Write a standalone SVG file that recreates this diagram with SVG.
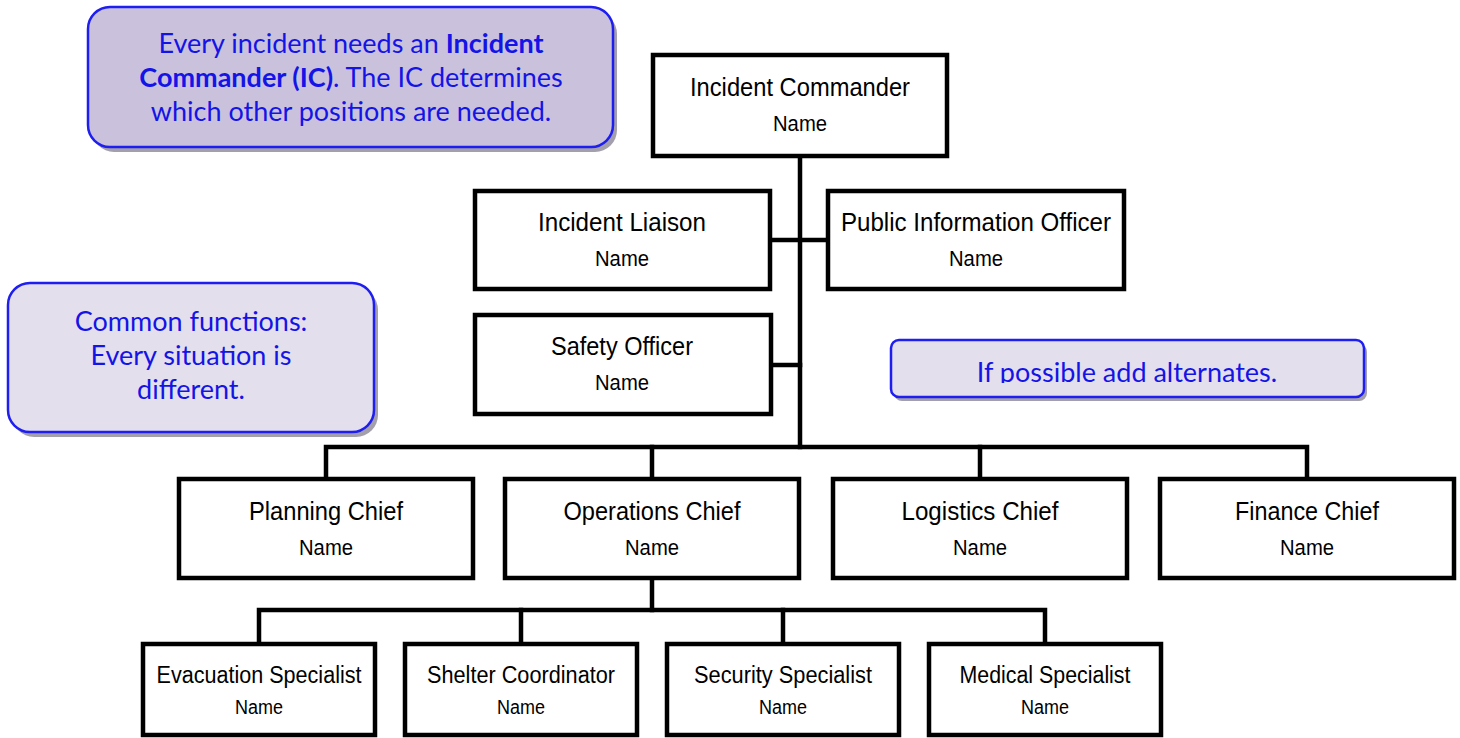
<svg xmlns="http://www.w3.org/2000/svg" width="1460" height="738" viewBox="0 0 1460 738">
<style>
.box{fill:#ffffff;stroke:#000000;stroke-width:4.5}
.t{font-family:"Liberation Sans Narrow","Liberation Sans",Arial,sans-serif;font-size:25px;fill:#000;text-anchor:middle}
.n{font-family:"Liberation Sans Narrow","Liberation Sans",Arial,sans-serif;font-size:22px;fill:#000;text-anchor:middle}
.t3{font-family:"Liberation Sans Narrow","Liberation Sans",Arial,sans-serif;font-size:23px;fill:#000;text-anchor:middle}
.n3{font-family:"Liberation Sans Narrow","Liberation Sans",Arial,sans-serif;font-size:20px;fill:#000;text-anchor:middle}
.conn{fill:none;stroke:#000;stroke-width:4.5;stroke-linecap:square}
.co{stroke:#1e1ef0;stroke-width:2.5}
.shadow{fill:#a39fab}
.ct{font-family:Lato,"Open Sans",sans-serif;font-size:27px;fill:#1414e6;text-anchor:middle}
</style>
<defs>
<clipPath id="clip3"><rect x="880" y="330" width="500" height="53"/></clipPath>
</defs>

<g id="callout-ic">
<rect class="shadow" x="92" y="12" width="525" height="140" rx="22"/>
<rect class="co" x="88" y="7" width="525" height="140" rx="22" fill="#cac2dd"/>
<text class="ct" x="351" y="53">Every incident needs an <tspan font-weight="bold">Incident</tspan></text>
<text class="ct" x="351" y="87"><tspan font-weight="bold">Commander (IC)</tspan>. The IC determines</text>
<text class="ct" x="351" y="121">which other positions are needed.</text>
</g>

<g id="callout-common">
<rect class="shadow" x="12" y="288" width="366" height="149" rx="22"/>
<rect class="co" x="8" y="283" width="366" height="149" rx="22" fill="#e4dfed"/>
<text class="ct" x="191" y="331">Common functions:</text>
<text class="ct" x="191" y="365">Every situation is</text>
<text class="ct" x="191" y="399">different.</text>
</g>

<g id="callout-alternates">
<rect class="shadow" x="894" y="344" width="473" height="57" rx="8"/>
<rect class="co" x="891" y="340" width="473" height="57" rx="8" fill="#e4dfed"/>
<text class="ct" x="1127" y="382" clip-path="url(#clip3)">If possible add alternates.</text>
</g>

<g id="connectors">
<path class="conn" d="M800 157 V447"/>
<path class="conn" d="M771 240 H827"/>
<path class="conn" d="M771 365 H800"/>
<path class="conn" d="M326 478 V447 H1307 V478"/>
<path class="conn" d="M652 447 V478"/>
<path class="conn" d="M980 447 V478"/>
<path class="conn" d="M652 579 V610"/>
<path class="conn" d="M259 643 V610 H1045 V643"/>
<path class="conn" d="M521 610 V643"/>
<path class="conn" d="M783 610 V643"/>
</g>

<g id="incident-commander">
<rect class="box" x="653" y="55" width="294" height="101"/>
<text class="t" x="800" y="96" textLength="220" lengthAdjust="spacingAndGlyphs">Incident Commander</text>
<text class="n" x="800" y="131" textLength="54" lengthAdjust="spacingAndGlyphs">Name</text>
</g>

<g id="incident-liaison">
<rect class="box" x="475" y="191" width="295" height="98"/>
<text class="t" x="622" y="231" textLength="168" lengthAdjust="spacingAndGlyphs">Incident Liaison</text>
<text class="n" x="622" y="266" textLength="54" lengthAdjust="spacingAndGlyphs">Name</text>
</g>

<g id="public-information-officer">
<rect class="box" x="828" y="191" width="296" height="98"/>
<text class="t" x="976" y="231" textLength="270" lengthAdjust="spacingAndGlyphs">Public Information Officer</text>
<text class="n" x="976" y="266" textLength="54" lengthAdjust="spacingAndGlyphs">Name</text>
</g>

<g id="safety-officer">
<rect class="box" x="475" y="315" width="296" height="99"/>
<text class="t" x="622" y="355" textLength="142" lengthAdjust="spacingAndGlyphs">Safety Officer</text>
<text class="n" x="622" y="390" textLength="54" lengthAdjust="spacingAndGlyphs">Name</text>
</g>

<g id="planning-chief">
<rect class="box" x="179" y="479" width="294" height="99"/>
<text class="t" x="326" y="520" textLength="154" lengthAdjust="spacingAndGlyphs">Planning Chief</text>
<text class="n" x="326" y="555" textLength="54" lengthAdjust="spacingAndGlyphs">Name</text>
</g>

<g id="operations-chief">
<rect class="box" x="505" y="479" width="294" height="99"/>
<text class="t" x="652" y="520" textLength="177" lengthAdjust="spacingAndGlyphs">Operations Chief</text>
<text class="n" x="652" y="555" textLength="54" lengthAdjust="spacingAndGlyphs">Name</text>
</g>

<g id="logistics-chief">
<rect class="box" x="833" y="479" width="294" height="99"/>
<text class="t" x="980" y="520" textLength="157" lengthAdjust="spacingAndGlyphs">Logistics Chief</text>
<text class="n" x="980" y="555" textLength="54" lengthAdjust="spacingAndGlyphs">Name</text>
</g>

<g id="finance-chief">
<rect class="box" x="1160" y="479" width="294" height="99"/>
<text class="t" x="1307" y="520" textLength="144" lengthAdjust="spacingAndGlyphs">Finance Chief</text>
<text class="n" x="1307" y="555" textLength="54" lengthAdjust="spacingAndGlyphs">Name</text>
</g>

<g id="evacuation-specialist">
<rect class="box" x="143" y="644" width="232" height="91"/>
<text class="t3" x="259" y="683" textLength="205" lengthAdjust="spacingAndGlyphs">Evacuation Specialist</text>
<text class="n3" x="259" y="714" textLength="48" lengthAdjust="spacingAndGlyphs">Name</text>
</g>

<g id="shelter-coordinator">
<rect class="box" x="405" y="644" width="232" height="91"/>
<text class="t3" x="521" y="683" textLength="188" lengthAdjust="spacingAndGlyphs">Shelter Coordinator</text>
<text class="n3" x="521" y="714" textLength="48" lengthAdjust="spacingAndGlyphs">Name</text>
</g>

<g id="security-specialist">
<rect class="box" x="667" y="644" width="232" height="91"/>
<text class="t3" x="783" y="683" textLength="178" lengthAdjust="spacingAndGlyphs">Security Specialist</text>
<text class="n3" x="783" y="714" textLength="48" lengthAdjust="spacingAndGlyphs">Name</text>
</g>

<g id="medical-specialist">
<rect class="box" x="929" y="644" width="232" height="91"/>
<text class="t3" x="1045" y="683" textLength="171" lengthAdjust="spacingAndGlyphs">Medical Specialist</text>
<text class="n3" x="1045" y="714" textLength="48" lengthAdjust="spacingAndGlyphs">Name</text>
</g>
</svg>
